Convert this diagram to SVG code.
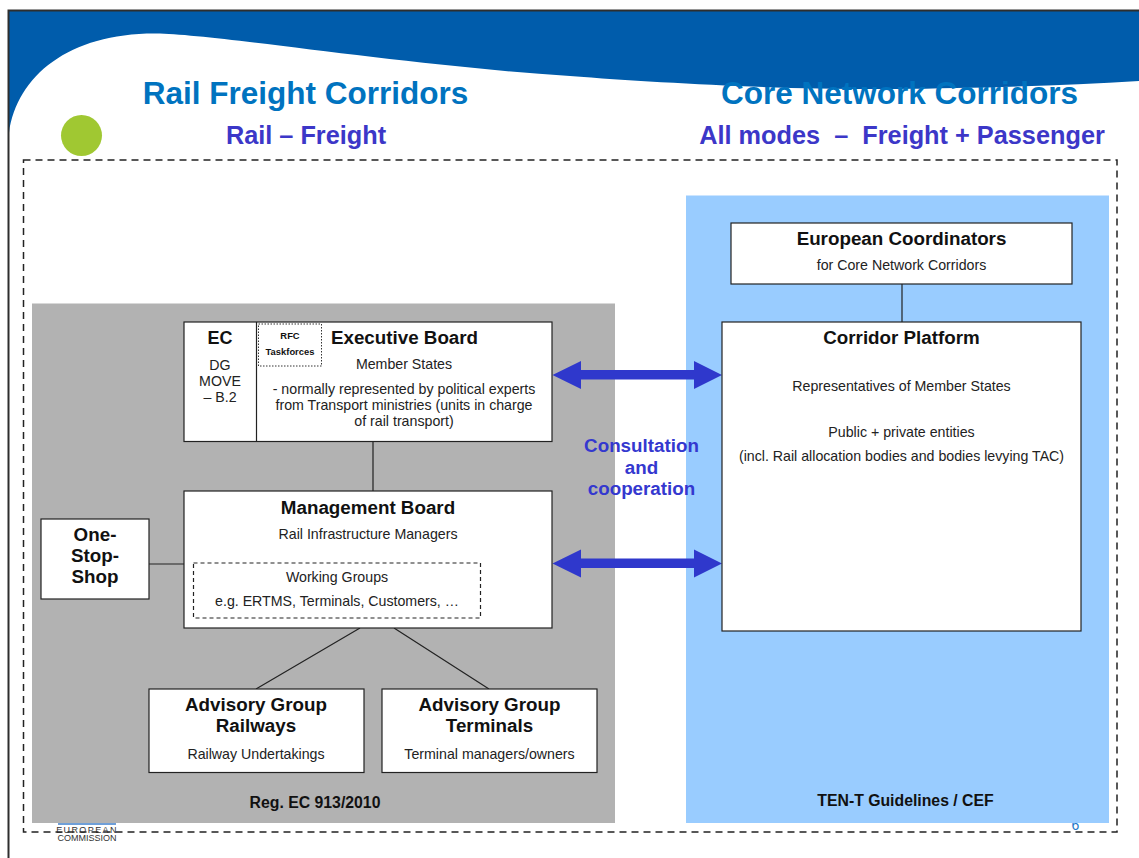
<svg xmlns="http://www.w3.org/2000/svg" width="1139" height="858" viewBox="0 0 1139 858">
<style>
text{font-family:"Liberation Sans",Arial,sans-serif;text-anchor:middle;fill:#111}
.t{font-size:18.8px;font-weight:bold}
.s{font-size:14.2px;fill:#222}
.h{font-size:31.5px;font-weight:bold;fill:#0073bf}
.u{font-size:25.3px;font-weight:bold;fill:#3c37c8}
.c{font-size:18.8px;font-weight:bold;fill:#3438cf}
.b{fill:#fff;stroke:#222;stroke-width:1.2}
.l{stroke:#222;stroke-width:1.2;fill:none}
.f{font-size:15.8px;font-weight:bold}
.a{fill:#2f38cc}
</style>
<rect width="1139" height="858" fill="#fff"/>
<path d="M9 11H1139V81C1060 86 970 88 897 89C790 90 660 83 570 76C400 65 215 34 156 33.500C70 33 17 75 9 133Z" fill="#005cab"/>
<path d="M8.500 858V10.500H1139" fill="none" stroke="#2e2e2e" stroke-width="2"/>
<text class="h" x="305.500" y="104">Rail Freight Corridors</text>
<text class="h" x="899.500" y="104">Core Network Corridors</text>
<text class="u" x="306" y="144">Rail – Freight</text>
<text class="u" x="902" y="144" xml:space="preserve">All modes  –  Freight + Passenger</text>
<ellipse cx="81.500" cy="135.500" rx="20.500" ry="20.500" fill="#a0c832"/>
<text x="1075.500" y="830" style="font-size:14px;fill:#1f78c8">6</text>
<rect x="32" y="303.500" width="583" height="519.500" fill="#b2b2b2"/>
<rect x="686" y="195.500" width="423" height="627.500" fill="#99ccff"/>
<rect x="58" y="823" width="58" height="2" fill="#6f9fd8"/>
<text x="87" y="833" style="font-size:9px;letter-spacing:1.400px;fill:#333">EUROPEAN</text>
<text x="87" y="841" style="font-size:9px;fill:#333">COMMISSION</text>
<rect x="23.500" y="160" width="1093.500" height="672" fill="none" stroke="#222" stroke-width="1.500" stroke-dasharray="7 5"/>
<g id="connectors">
<path class="l" d="M902 284V322M373 442V491M149 564H184M360 628L256 689M394 628L489 689"/>
<path class="a" d="M552.500 375L581 361V370H694V361L722 375L694 389V379.500H581V389Z"/>
<path class="a" d="M552.500 563.500L581 549.500V558.500H694V549.500L722 563.500L694 577.500V568H581V577.500Z"/>
</g>
<text class="c" x="641.500" y="452">Consultation</text>
<text class="c" x="641.500" y="474">and</text>
<text class="c" x="641.500" y="495">cooperation</text>
<g id="coordinators">
<rect class="b" x="731" y="223" width="341" height="61"/>
<text class="t" x="901.500" y="245">European Coordinators</text>
<text class="s" x="901.500" y="270">for Core Network Corridors</text>
</g>
<g id="platform">
<rect class="b" x="722" y="322" width="359" height="309"/>
<text class="t" x="901.500" y="344">Corridor Platform</text>
<text class="s" x="901.500" y="391">Representatives of Member States</text>
<text class="s" x="901.500" y="437">Public + private entities</text>
<text class="s" x="901.500" y="461">(incl. Rail allocation bodies and bodies levying TAC)</text>
</g>
<g id="executive">
<rect class="b" x="184" y="322" width="368" height="119.500"/>
<path class="l" d="M256.500 322V441.500"/>
<text x="220" y="344" style="font-size:18px;font-weight:bold">EC</text>
<text class="s" x="220" y="370">DG</text>
<text class="s" x="220" y="386">MOVE</text>
<text class="s" x="220" y="402">– B.2</text>
<rect x="258.500" y="324" width="63" height="42" fill="#fff" stroke="#333" stroke-width="1" stroke-dasharray="1.500 1.500"/>
<text x="290" y="339" style="font-size:9.400px;font-weight:bold">RFC</text>
<text x="290" y="355" style="font-size:9.400px;font-weight:bold">Taskforces</text>
<text class="t" x="404.500" y="344">Executive Board</text>
<text class="s" x="404" y="369">Member States</text>
<text class="s" x="404" y="394">- normally represented by political experts</text>
<text class="s" x="404" y="410">from Transport ministries (units in charge</text>
<text class="s" x="404" y="426">of rail transport)</text>
</g>
<g id="management">
<rect class="b" x="184" y="491" width="368" height="137"/>
<text class="t" x="368" y="514">Management Board</text>
<text class="s" x="368" y="539">Rail Infrastructure Managers</text>
<rect x="193.500" y="563" width="287" height="55" fill="none" stroke="#222" stroke-width="1.200" stroke-dasharray="4 3"/>
<text class="s" x="337" y="582">Working Groups</text>
<text class="s" x="337" y="606">e.g. ERTMS, Terminals, Customers, …</text>
</g>
<g id="oss">
<rect class="b" x="41" y="519" width="108" height="80"/>
<text class="t" x="95" y="541">One-</text>
<text class="t" x="95" y="562">Stop-</text>
<text class="t" x="95" y="583">Shop</text>
</g>
<g id="agr">
<rect class="b" x="149" y="689" width="215" height="83.500"/>
<text class="t" x="256" y="711">Advisory Group</text>
<text class="t" x="256" y="732">Railways</text>
<text class="s" x="256" y="759">Railway Undertakings</text>
</g>
<g id="agt">
<rect class="b" x="382" y="689" width="215" height="83.500"/>
<text class="t" x="489.500" y="711">Advisory Group</text>
<text class="t" x="489.500" y="732">Terminals</text>
<text class="s" x="489.500" y="759">Terminal managers/owners</text>
</g>
<text class="f" x="315" y="808">Reg. EC 913/2010</text>
<text class="f" x="905.500" y="806">TEN-T Guidelines / CEF</text>
</svg>
